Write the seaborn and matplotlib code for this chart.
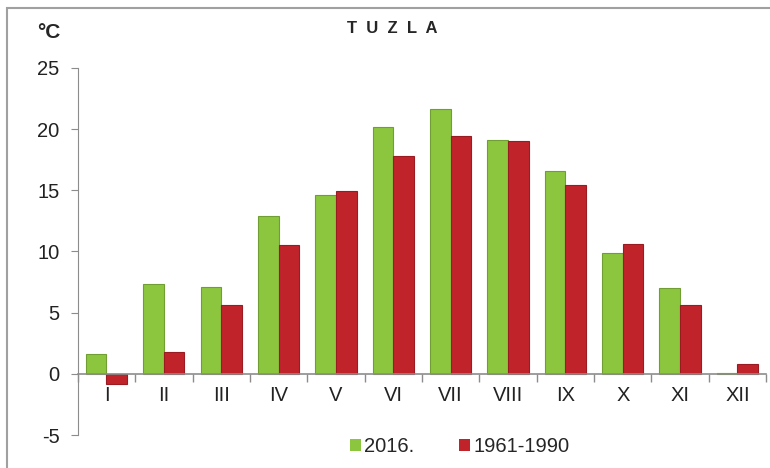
import matplotlib
matplotlib.use("Agg")
import matplotlib.pyplot as plt
import seaborn as sns
import pandas as pd
from matplotlib.patches import Rectangle
from matplotlib.ticker import FixedLocator

# monthly mean temperature, Tuzla
months = ['I', 'II', 'III', 'IV', 'V', 'VI', 'VII', 'VIII', 'IX', 'X', 'XI', 'XII']
temp_2016 = [1.6, 7.3, 7.1, 12.9, 14.6, 20.2, 21.6, 19.1, 16.6, 9.9, 7.0, 0.1]
temp_1961_1990 = [-0.8, 1.8, 5.6, 10.5, 14.9, 17.8, 19.4, 19.0, 15.4, 10.6, 5.6, 0.8]
series_names = ['2016.', '1961-1990']
colors = ['#8cc63e', '#c1232b']

df = pd.DataFrame({
    'month': months * 2,
    'temp': temp_2016 + temp_1961_1990,
    'period': [series_names[0]] * 12 + [series_names[1]] * 12,
})

sns.set_style('white')
plt.rcParams['font.family'] = ['Liberation Sans', 'DejaVu Sans']
plt.rcParams['axes.unicode_minus'] = False

fig = plt.figure(figsize=(7.7, 4.68), dpi=100)
ax = fig.add_axes([0.101, 0.0705, 0.894, 0.7845])

sns.barplot(data=df, x='month', y='temp', hue='period', palette=colors,
            width=0.72, gap=0, saturation=1, ax=ax, edgecolor='none')

# darker edges to hint at the shaded columns
for bar in ax.patches:
    fc = bar.get_facecolor()
    bar.set_edgecolor(tuple(c * 0.8 for c in fc[:3]) + (1,))
    bar.set_linewidth(0.8)

ax.set_ylim(-5, 25)
ax.set_xlim(-0.5, 11.5)
ax.set_yticks([-5, 0, 5, 10, 15, 20, 25])
ax.set_xlabel('')
ax.set_ylabel('')

grey = '#8c8c8c'
for s in ['top', 'right']:
    ax.spines[s].set_visible(False)
ax.spines['left'].set_color(grey)
ax.spines['bottom'].set_color(grey)
ax.spines['bottom'].set_position(('data', 0))
ax.spines['bottom'].set_linewidth(1.2)

ax.tick_params(axis='y', left=True, length=5, color=grey, labelsize=14.5, pad=8, labelcolor='#222222')
ax.tick_params(axis='x', which='major', bottom=False, length=0, labelsize=14.5, pad=9, labelcolor='#222222')
ax.xaxis.set_minor_locator(FixedLocator([i + 0.5 for i in range(-1, 12)]))
ax.tick_params(axis='x', which='minor', bottom=True, length=6, color=grey, width=1)

leg = ax.legend(loc='center', bbox_to_anchor=(0.597, 0.045), bbox_transform=fig.transFigure,
                ncol=2, frameon=False, fontsize=14.5, handlelength=0.55, handleheight=0.55,
                handletextpad=0.15, columnspacing=2.2)
for h in leg.legend_handles:
    h.set_edgecolor('none')

fig.text(0.509, 0.94, 'T  U  Z  L  A', ha='center', va='center', fontsize=12, fontweight='bold')
fig.text(0.064, 0.93, '°C', ha='center', va='center', fontsize=15, fontweight='bold')

fig.patches.append(Rectangle((0.009, -0.05), 1.2, 1.033, transform=fig.transFigure,
                             fill=False, edgecolor='#a0a0a0', linewidth=1.5))

fig.savefig('out.png', dpi=100)
